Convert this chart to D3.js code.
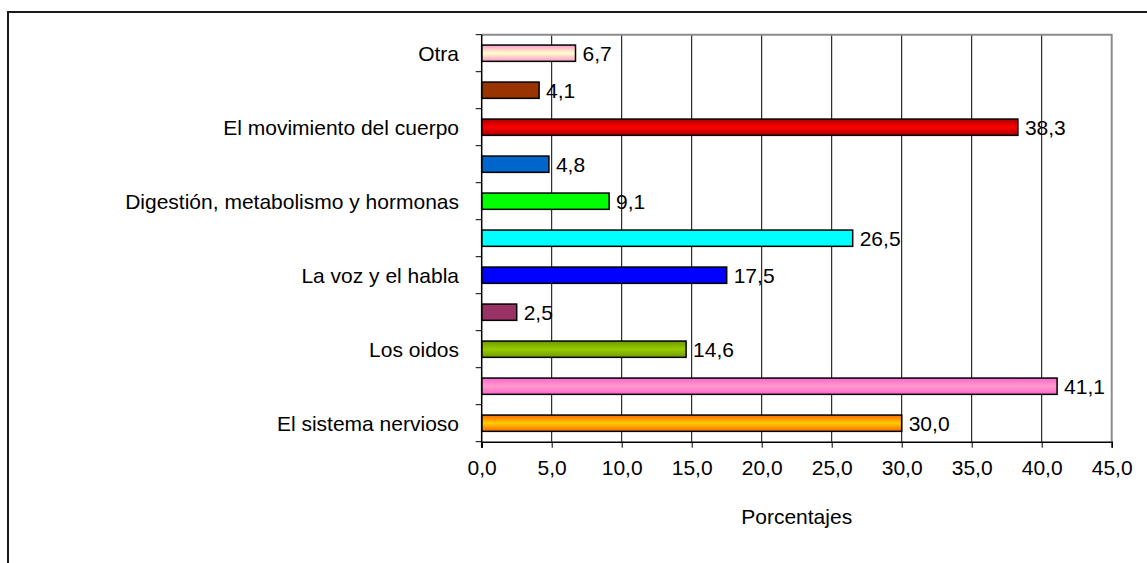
<!DOCTYPE html>
<html>
<head>
<meta charset="utf-8">
<script src="https://cdn.jsdelivr.net/npm/d3@7"></script>
<style>
  html, body { margin: 0; padding: 0; background: #fff; }
  svg { display: block; font-family: "Liberation Sans", Arial, sans-serif; }
</style>
</head>
<body>
<svg id="chart" width="1147" height="563"></svg>
<script>
// Categories from top to bottom (empty strings = labels not shown in the original)
const categories = ["Otra", "", "El movimiento del cuerpo", "", "Digestión, metabolismo y hormonas", "", "La voz y el habla", "", "Los oidos", "", "El sistema nervioso"];
const values = [6.7, 4.1, 38.3, 4.8, 9.1, 26.5, 17.5, 2.5, 14.6, 41.1, 30.0];
// Edge colour / centre colour for each bar's vertical gradient
const edgeColors = ["#FF99CC", "#993300", "#AA0000", "#0066CC", "#00FF00", "#00FFFF", "#0000FF", "#993366", "#6E9900", "#FF66CC", "#FF6600"];
const centerColors = ["#FFFFCC", "#993300", "#FF0000", "#0066CC", "#00FF00", "#00FFFF", "#0000FF", "#993366", "#99CC00", "#FF99CC", "#FFCC00"];
const xTicks = [0, 5, 10, 15, 20, 25, 30, 35, 40, 45];
const xTitle = "Porcentajes";

const FS = 21;
const svg = d3.select("#chart");
const fmt = v => v.toFixed(1).replace(".", ",");

const plot = { left: 481.7, right: 1111.7, top: 34.7, bottom: 441.7 };

const x = d3.scaleLinear().domain([0, 45]).range([plot.left, plot.right]);
const y = d3.scaleBand().domain(d3.range(categories.length)).range([plot.top, plot.bottom]).padding(0);

// outer chart border
svg.append("rect").attr("x", 8).attr("y", 12).attr("width", 1300).attr("height", 700)
  .attr("fill", "none").attr("stroke", "#1a1a1a").attr("stroke-width", 2);

// gradients
const defs = svg.append("defs");
values.forEach((v, i) => {
  const g = defs.append("linearGradient").attr("id", "grad" + i)
    .attr("x1", 0).attr("y1", 0).attr("x2", 0).attr("y2", 1);
  g.append("stop").attr("offset", "0%").attr("stop-color", edgeColors[i]);
  g.append("stop").attr("offset", "50%").attr("stop-color", centerColors[i]);
  g.append("stop").attr("offset", "100%").attr("stop-color", edgeColors[i]);
});

// gridlines
svg.append("g").selectAll("line").data(xTicks.filter(t => t > 0 && t < 45)).join("line")
  .attr("x1", d => x(d)).attr("x2", d => x(d))
  .attr("y1", plot.top).attr("y2", plot.bottom)
  .attr("stroke", "#000").attr("stroke-width", 1);

// plot area border (top and right, gray)
svg.append("path")
  .attr("d", `M${plot.left},${plot.top}H${plot.right}V${plot.bottom}`)
  .attr("fill", "none").attr("stroke", "#8c8c8c").attr("stroke-width", 2);

// bars
const barH = y.bandwidth() * 0.44;
svg.append("g").selectAll("rect").data(values).join("rect")
  .attr("x", x(0))
  .attr("y", (d, i) => y(i) + (y.bandwidth() - barH) / 2)
  .attr("width", d => x(d) - x(0))
  .attr("height", barH)
  .attr("fill", (d, i) => `url(#grad${i})`)
  .attr("stroke", "#000").attr("stroke-width", 1.5);

// value labels
svg.append("g").selectAll("text").data(values).join("text")
  .attr("x", d => x(d) + 7)
  .attr("y", (d, i) => y(i) + y.bandwidth() / 2)
  .attr("dy", "0.35em")
  .attr("font-size", FS)
  .attr("fill", "#000")
  .text(d => fmt(d));

// x axis
const xAxis = d3.axisBottom(x).tickValues(xTicks).tickFormat(fmt).tickSize(6).tickPadding(12);
const gx = svg.append("g").attr("transform", `translate(0,${plot.bottom})`).call(xAxis);
gx.select(".domain").attr("stroke", "#000").attr("stroke-width", 1.5);
gx.selectAll(".tick line").attr("stroke", "#000");
gx.selectAll(".tick text").attr("font-size", FS).attr("font-family", '"Liberation Sans", Arial, sans-serif').attr("fill", "#000");

// y axis (ticks at category boundaries)
svg.append("line").attr("x1", plot.left).attr("x2", plot.left)
  .attr("y1", plot.top).attr("y2", plot.bottom + 6).attr("stroke", "#000").attr("stroke-width", 1.5);
const boundaries = d3.range(categories.length + 1).map(i => i < categories.length ? y(i) : plot.bottom);
svg.append("g").selectAll("line").data(boundaries).join("line")
  .attr("x1", plot.left - 6).attr("x2", plot.left)
  .attr("y1", d => d).attr("y2", d => d)
  .attr("stroke", "#000").attr("stroke-width", 1);

svg.append("g").selectAll("text").data(categories).join("text")
  .attr("x", 459)
  .attr("y", (d, i) => y(i) + y.bandwidth() / 2)
  .attr("dy", "0.35em")
  .attr("text-anchor", "end")
  .attr("font-size", FS)
  .attr("fill", "#000")
  .text(d => d);

// x axis title
svg.append("text").attr("x", (plot.left + plot.right) / 2).attr("y", 517)
  .attr("dy", "0.35em").attr("text-anchor", "middle")
  .attr("font-size", FS).attr("fill", "#000").text(xTitle);
</script>
</body>
</html>
